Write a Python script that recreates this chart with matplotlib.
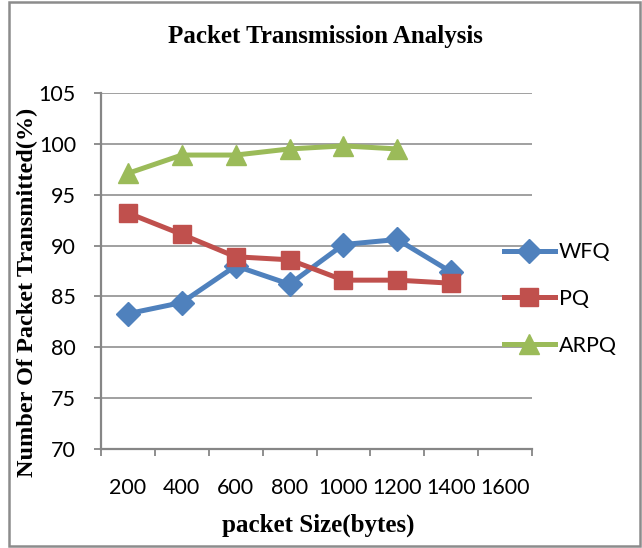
import matplotlib
matplotlib.use("Agg")
import matplotlib.pyplot as plt
from matplotlib.patches import Rectangle

categories = ["200", "400", "600", "800", "1000", "1200", "1400", "1600"]
wfq = [83.3, 84.4, 88.0, 86.2, 90.1, 90.6, 87.4]
pq = [93.2, 91.1, 88.9, 88.6, 86.6, 86.6, 86.3]
arpq = [97.1, 98.9, 98.9, 99.5, 99.8, 99.5]
yticks = [70, 75, 80, 85, 90, 95, 100, 105]

W, H = 642, 548
fig = plt.figure(figsize=(W / 100, H / 100), dpi=100)
ax = fig.add_axes([101 / W, 1 - 449 / H, (532 - 101) / W, (449 - 93) / H])

grey = "#868686"
tick_font = "Lato"
serif = "Liberation Serif"

# chart border
fig.patches.append(Rectangle((9 / W, 2 / H), (640 - 9) / W, (546 - 2) / H,
                             transform=fig.transFigure, fill=False,
                             edgecolor="#8c8c8c", linewidth=1.8))

ax.plot(range(len(wfq)), wfq, color="#4F81BD", lw=3.6, marker="D", ms=12,
        label="WFQ", solid_joinstyle="round", zorder=3)
ax.plot(range(len(pq)), pq, color="#C0504D", lw=3.6, marker="s", ms=13.5,
        label="PQ", solid_joinstyle="round", zorder=4)
ax.plot(range(len(arpq)), arpq, color="#9BBB59", lw=3.6, marker="^", ms=14,
        label="ARPQ", solid_joinstyle="round", zorder=5)

ax.set_xlim(-0.5, len(categories) - 0.5)
ax.set_ylim(70, 105)
ax.set_yticks(yticks)
ax.set_yticklabels([str(v) for v in yticks], fontname=tick_font, fontsize=15.5)
ax.yaxis.grid(True, color=grey, linewidth=1.1)
ax.set_axisbelow(True)

# major ticks at category boundaries, labels at centers (minor)
ax.set_xticks([i - 0.5 for i in range(len(categories) + 1)])
ax.set_xticklabels([])
ax.set_xticks(range(len(categories)), minor=True)
ax.set_xticklabels(categories, minor=True, fontname=tick_font, fontsize=15.5)
ax.tick_params(axis="x", which="major", length=5, width=1.3, color=grey, direction="out")
ax.tick_params(axis="x", which="minor", length=0, pad=21)
ax.tick_params(axis="y", length=5, width=1.3, color=grey, pad=13)

for s in ["top", "right"]:
    ax.spines[s].set_visible(False)
for s in ["left", "bottom"]:
    ax.spines[s].set_color(grey)
    ax.spines[s].set_linewidth(1.6)

fig.text(325 / W, 1 - 37 / H, "Packet Transmission Analysis", fontname=serif,
         fontweight="bold", fontsize=18, ha="center", va="center")
fig.text(318 / W, 1 - 525 / H, "packet Size(bytes)", fontname=serif,
         fontweight="bold", fontsize=18, ha="center", va="center")
fig.text(27 / W, 1 - 292 / H, "Number Of Packet Transmitted(%)", fontname=serif,
         fontweight="bold", fontsize=17.5, ha="center", va="center", rotation=90)

leg = ax.legend(loc="center left", bbox_to_anchor=(495 / W, 1 - 299 / H),
                bbox_transform=fig.transFigure, frameon=False,
                prop={"family": tick_font, "size": 15.5}, handlelength=2.4,
                handletextpad=0.15, labelspacing=1.25, borderaxespad=0)

fig.savefig("out.png", dpi=100)
